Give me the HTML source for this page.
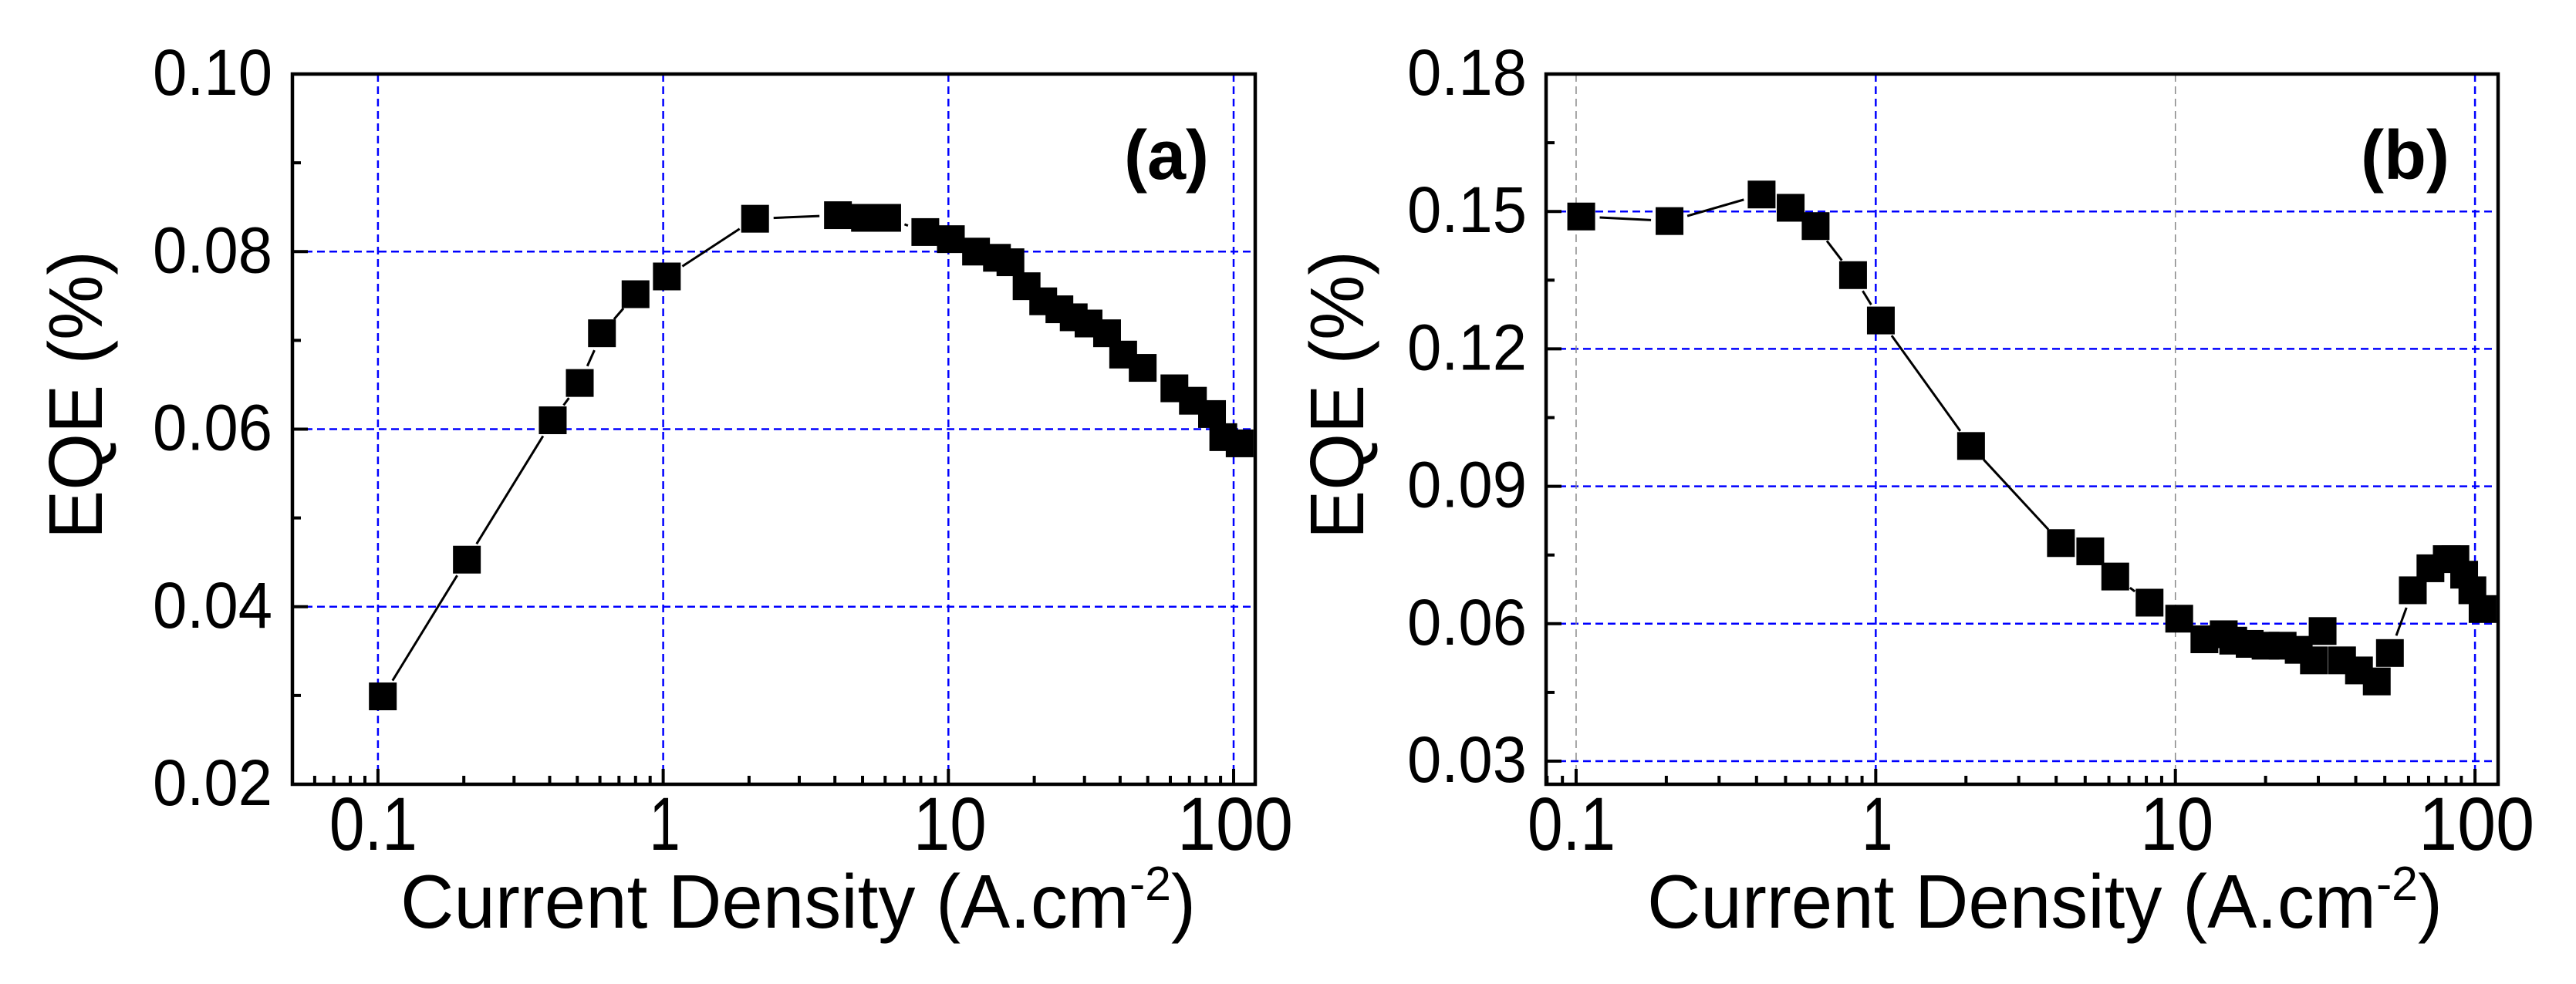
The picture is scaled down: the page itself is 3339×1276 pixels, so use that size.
<!DOCTYPE html>
<html><head><meta charset="utf-8"><style>
html,body{margin:0;padding:0;background:#fff;}
svg{display:block;font-family:"Liberation Sans",Arial,sans-serif;}
</style></head><body>
<svg id="fig" width="3339" height="1276" viewBox="0 0 3339 1276" xmlns="http://www.w3.org/2000/svg"></svg>
<script>
// Panel (a) data
const aCurrent = [0.104,0.205,0.41,0.51,0.61,0.8,1.03,2.1,4.1,5.1,6.1,8.3,10.2,12.5,14.8,16.5,18.8,21.5,24.5,27.5,31,36,41,48,62,72,84,92,105];
const aEQE = [0.0299,0.0453,0.0610,0.0652,0.0708,0.0752,0.0772,0.0837,0.0841,0.0838,0.0838,0.0822,0.0814,0.0800,0.0793,0.0788,0.0761,0.0744,0.0735,0.0726,0.0719,0.0708,0.0684,0.0669,0.0646,0.0632,0.0617,0.0591,0.0584];
// Panel (b) data
const bCurrent = [0.104,0.205,0.416,0.52,0.63,0.84,1.04,2.08,4.15,5.2,6.3,8.2,10.3,12.5,14.5,15.6,17.7,20,22.8,25.8,29,31,36,41,47,52,62,71,80.5,86,92,98,106];
const bEQE = [0.1489,0.1479,0.1537,0.1508,0.1468,0.1361,0.1262,0.0988,0.0776,0.0758,0.0703,0.0646,0.0611,0.0566,0.0577,0.0563,0.0556,0.0552,0.0552,0.0543,0.0520,0.0584,0.0520,0.0498,0.0474,0.0536,0.0673,0.0721,0.0741,0.0741,0.0707,0.0673,0.0632];
const xTickLabels = ["0.1","1","10","100"];
const xTickValues = [0.1,1,10,100];
const aYTicks = [0.02,0.04,0.06,0.08,0.10];
const aYTickLabels = ["0.02","0.04","0.06","0.08","0.10"];
const bYTicks = [0.03,0.06,0.09,0.12,0.15,0.18];
const bYTickLabels = ["0.03","0.06","0.09","0.12","0.15","0.18"];

const NS="http://www.w3.org/2000/svg";
const svg=document.getElementById('fig');
function mk(tag,attrs,parent){const e=document.createElementNS(NS,tag);for(const k in attrs)e.setAttribute(k,attrs[k]);(parent||svg).appendChild(e);return e;}
const xLabelW={"0.1":114,"1":40,"10":95,"100":150};

function panel(cfg){
  const g=mk('g',{});
  
  
  const lx0=Math.log10(cfg.xmin), lx1=Math.log10(cfg.xmax);
  const X=v=>cfg.L+(Math.log10(v)-lx0)/(lx1-lx0)*(cfg.R-cfg.L);
  const Y=v=>cfg.B-(v-cfg.ymin)/(cfg.ymax-cfg.ymin)*(cfg.B-cfg.T);
  cfg.yTicks.forEach(v=>{const y=Y(v); if(Math.abs(y-cfg.T)<3||Math.abs(y-cfg.B)<3)return;
    const l=mk('line',{x1:cfg.L,x2:cfg.R,y1:y,y2:y,stroke:'#0000ff','stroke-width':2.5,'stroke-dasharray':'10 6'},g);
    
    });
  xTickValues.forEach((v,i)=>{const x=X(v);
    const c=(cfg.grayX&&cfg.grayX.includes(v))?'#888':'#0000ff';
    const l=mk('line',{x1:x,x2:x,y1:cfg.T,y2:cfg.B,stroke:c,'stroke-width':c=='#888'?1.5:2.5,'stroke-dasharray':'10 6'},g);
    
    });
  for(let d=-2;d<=2;d++){for(let m=1;m<=9;m++){const v=m*Math.pow(10,d);if(v<cfg.xmin||v>cfg.xmax)continue;
    const x=X(v),len=m==1?20:11;
    const t=mk('line',{x1:x,x2:x,y1:cfg.B,y2:cfg.B-len,stroke:'#000','stroke-width':4},g);
    
    }}
  const step=cfg.yTicks[1]-cfg.yTicks[0];
  for(let v=cfg.yTicks[0]-step/2;v<=cfg.ymax+1e-9;v+=step/2){if(v<cfg.ymin-1e-9)continue;
    const maj=cfg.yTicks.some(t=>Math.abs(t-v)<1e-6);const y=Y(v);
    const t=mk('line',{x1:cfg.L,x2:cfg.L+(maj?20:11),y1:y,y2:y,stroke:'#000','stroke-width':4},g);
    
    }
  const f=mk('rect',{x:cfg.L,y:cfg.T,width:cfg.R-cfg.L,height:cfg.B-cfg.T,fill:'none',stroke:'#000','stroke-width':4.5},g);
  
  
  xTickValues.forEach((v,i)=>{const s=xTickLabels[i];
    const t=mk('text',{x:X(v)+(s=='0.1'?-6:2),y:1102,'font-size':97,'text-anchor':'middle',textLength:xLabelW[s]||s.length*45,lengthAdjust:'spacingAndGlyphs'},g);
    t.textContent=s;
    
    });
  cfg.yTicks.forEach((v,i)=>{
    const t=mk('text',{x:cfg.labelR,y:Y(v)+27,'font-size':84,'text-anchor':'end',textLength:155,lengthAdjust:'spacingAndGlyphs'},g);
    t.textContent=cfg.yLabels[i];
    
    });
  const xt=mk('text',{x:cfg.xtX,y:1203,'font-size':98,textLength:1031,lengthAdjust:'spacingAndGlyphs'},g);
  xt.innerHTML='Current Density (A.cm<tspan dy="-36" font-size="62">-2</tspan><tspan dy="36">)</tspan>';
  
  
  const yt=mk('text',{x:0,y:0,'font-size':98,'text-anchor':'middle',textLength:374,lengthAdjust:'spacingAndGlyphs',transform:`translate(${cfg.ytX},512) rotate(-90)`},g);
  yt.textContent='EQE (%)';
  
  
  const pl=mk('text',{x:cfg.plX,y:232,'font-size':90,'font-weight':'bold'},g);
  pl.textContent=cfg.panelLabel;
  
  
  const px=cfg.xs.map(X), py=cfg.ys.map(Y);
  for(let i=0;i<px.length-1;i++){const dx=px[i+1]-px[i],dy=py[i+1]-py[i],d=Math.hypot(dx,dy);const gap=24;
    if(d<2*gap+4)continue;const ux=dx/d,uy=dy/d;
    const s=mk('line',{x1:px[i]+ux*gap,y1:py[i]+uy*gap,x2:px[i+1]-ux*gap,y2:py[i+1]-uy*gap,stroke:'#000','stroke-width':3},g);
    
    }
  for(let i=0;i<px.length;i++){
    const r=mk('rect',{x:px[i]-18,y:py[i]-18,width:36,height:36,fill:'#000'},g);
    
    }
}
panel({name:'panel-a',L:379,R:1627,T:96,B:1017,xmin:Math.pow(10,-1.3),xmax:Math.pow(10,2.0757),ymin:0.02,ymax:0.10,
  yTicks:aYTicks,yLabels:aYTickLabels,labelR:353,xtX:519,ytX:132,plX:1457,panelLabel:'(a)',xs:aCurrent,ys:aEQE});
panel({name:'panel-b',L:2004,R:3238,T:96,B:1017,xmin:Math.pow(10,-1.1003),xmax:Math.pow(10,2.077),ymin:0.02495,ymax:0.18,
  yTicks:bYTicks,yLabels:bYTickLabels,labelR:1979,xtX:2135,ytX:1767,plX:3060,panelLabel:'(b)',grayX:[0.1,10],xs:bCurrent,ys:bEQE});
</script>
</body></html>
